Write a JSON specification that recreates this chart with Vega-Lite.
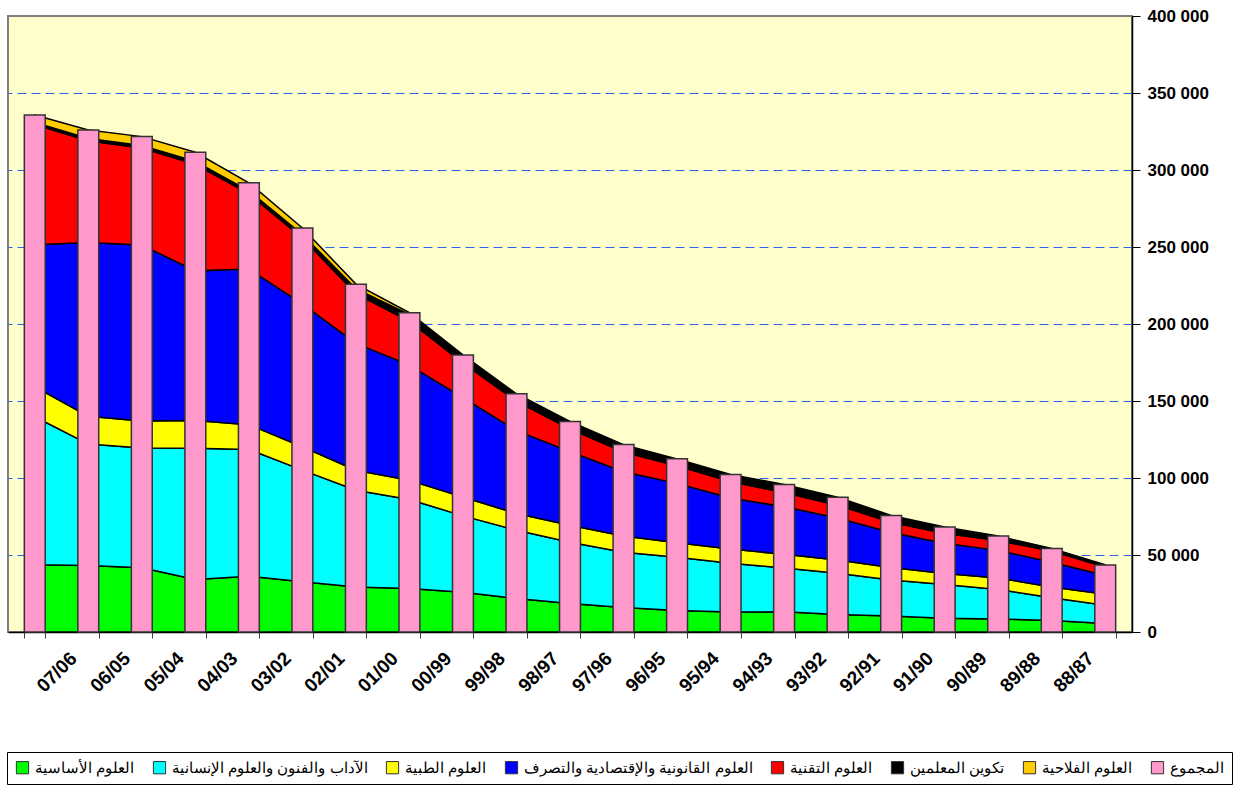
{
  "$schema": "https://vega.github.io/schema/vega-lite/v6.json",
  "width": 1124,
  "height": 616,
  "autosize": {"type": "none"},
  "padding": {"left": 8, "top": 16, "right": 105, "bottom": 157},
  "background": "white",
  "config": {
    "view": {"fill": "#FFFFCC", "stroke": "#808080", "strokeWidth": 2},
    "font": "Liberation Sans"
  },
  "datasets": {
    "series": [
      {"key": "s1", "name": "العلوم الأساسية", "k": 1},
      {"key": "s2", "name": "الآداب والفنون والعلوم الإنسانية", "k": 2},
      {"key": "s3", "name": "العلوم الطبية", "k": 3},
      {"key": "s4", "name": "العلوم القانونية والإقتصادية والتصرف", "k": 4},
      {"key": "s5", "name": "العلوم التقنية", "k": 5},
      {"key": "s6", "name": "تكوين المعلمين", "k": 6},
      {"key": "s7", "name": "العلوم الفلاحية", "k": 7},
      {"key": "s8", "name": "المجموع", "k": 8}
    ]
  },
  "data": {
    "values": [
      {"year": " ", "s1": 43620, "s2": 96180, "s3": 19480, "s4": 92230, "s5": 78070, "s6": 1350, "s7": 4800, "s8": 335730},
      {"year": "07/06", "s1": 43170, "s2": 78830, "s3": 18060, "s4": 112820, "s5": 66040, "s6": 1500, "s7": 5600, "s8": 326020},
      {"year": "06/05", "s1": 41750, "s2": 77800, "s3": 17410, "s4": 114300, "s5": 63020, "s6": 1600, "s7": 5800, "s8": 321680},
      {"year": "05/04", "s1": 34110, "s2": 85240, "s3": 18060, "s4": 97090, "s5": 69220, "s6": 1800, "s7": 6000, "s8": 311520},
      {"year": "04/03", "s1": 36250, "s2": 82330, "s3": 16050, "s4": 101100, "s5": 48890, "s6": 1900, "s7": 5200, "s8": 291720},
      {"year": "03/02", "s1": 32690, "s2": 72430, "s3": 15150, "s4": 92820, "s5": 42740, "s6": 2300, "s7": 4200, "s8": 262330},
      {"year": "02/01", "s1": 29260, "s2": 62780, "s3": 13010, "s4": 82400, "s5": 32290, "s6": 3150, "s7": 3000, "s8": 225890},
      {"year": "01/00", "s1": 28290, "s2": 57800, "s3": 12360, "s4": 74820, "s5": 28540, "s6": 4300, "s7": 1200, "s8": 207310},
      {"year": "00/99", "s1": 25760, "s2": 49640, "s3": 12300, "s4": 64470, "s5": 22560, "s6": 4200, "s7": 1000, "s8": 179930},
      {"year": "99/98", "s1": 21810, "s2": 44210, "s3": 10870, "s4": 53850, "s5": 19100, "s6": 3950, "s7": 900, "s8": 154690},
      {"year": "98/97", "s1": 18510, "s2": 39740, "s3": 11130, "s4": 47770, "s5": 14760, "s6": 4050, "s7": 800, "s8": 136760},
      {"year": "97/96", "s1": 15860, "s2": 35920, "s3": 10550, "s4": 41750, "s5": 12750, "s6": 4050, "s7": 800, "s8": 121680},
      {"year": "96/95", "s1": 13920, "s2": 34690, "s3": 9390, "s4": 38510, "s5": 11370, "s6": 3850, "s7": 700, "s8": 112430},
      {"year": "95/94", "s1": 13010, "s2": 31650, "s3": 9260, "s4": 33070, "s5": 10730, "s6": 3850, "s7": 700, "s8": 102270},
      {"year": "94/93", "s1": 13070, "s2": 28480, "s3": 8870, "s4": 30940, "s5": 9230, "s6": 4500, "s7": 700, "s8": 95790},
      {"year": "93/92", "s1": 11330, "s2": 26800, "s3": 8670, "s4": 27250, "s5": 8320, "s6": 4600, "s7": 600, "s8": 87570},
      {"year": "92/91", "s1": 10360, "s2": 23430, "s3": 8090, "s4": 22720, "s5": 6580, "s6": 3950, "s7": 600, "s8": 75730},
      {"year": "91/90", "s1": 8870, "s2": 21940, "s3": 7120, "s4": 19680, "s5": 6540, "s6": 3500, "s7": 500, "s8": 68150},
      {"year": "90/89", "s1": 8410, "s2": 19220, "s3": 7440, "s4": 17930, "s5": 6330, "s6": 2600, "s7": 400, "s8": 62330},
      {"year": "89/88", "s1": 7440, "s2": 14760, "s3": 6990, "s4": 16120, "s5": 7260, "s6": 1300, "s7": 300, "s8": 54170},
      {"year": "88/87", "s1": 5500, "s2": 11910, "s3": 7120, "s4": 12100, "s5": 5630, "s6": 1100, "s7": 200, "s8": 43560}
    ]
  },
  "transform": [
    {"fold": ["s1", "s2", "s3", "s4", "s5", "s6", "s7", "s8"], "as": ["key", "value"]},
    {"lookup": "key", "from": {"data": {"name": "series"}, "key": "key", "fields": ["name", "k"]}}
  ],
  "layer": [
    {
      "transform": [{"filter": "datum.k < 8"}],
      "mark": {"type": "area", "stroke": "black", "strokeWidth": 1.5, "strokeJoin": "miter"},
      "encoding": {
        "x": {
          "field": "year", "type": "nominal", "bandPosition": 0.5,
          "scale": {"type": "band", "domain": [" ", "07/06", "06/05", "05/04", "04/03", "03/02", "02/01", "01/00", "00/99", "99/98", "98/97", "97/96", "96/95", "95/94", "94/93", "93/92", "92/91", "91/90", "90/89", "89/88", "88/87"], "paddingInner": 0.61, "paddingOuter": 0.305},
          "axis": {"title": null, "labelAngle": -45, "labelAlign": "right", "labelBaseline": "middle", "labelOffset": -15, "labelPadding": 17, "labelFont": "Liberation Sans", "labelFontSize": 19, "labelFontWeight": "bold", "labelColor": "black", "labelOverlap": false, "tickBand": "extent", "tickSize": 6, "tickColor": "#404040", "domainColor": "black", "domainWidth": 1.5, "grid": false}
        },
        "y": {
          "field": "value", "type": "quantitative", "stack": "zero",
          "scale": {"domain": [0, 400000], "nice": false},
          "axis": {"orient": "right", "title": null, "values": [0, 50000, 100000, 150000, 200000, 250000, 300000, 350000, 400000], "labelExpr": "datum.value == 0 ? '\u00a00' : format(datum.value / 1000, 'd') + ' 000'", "labelFont": "Liberation Sans", "labelFontSize": 17, "labelFontWeight": "bold", "labelColor": "black", "labelPadding": 7, "domainColor": "black", "domainWidth": 1.5, "tickColor": "black", "tickSize": 8, "grid": true, "gridColor": "#2E62F0", "gridDash": [9, 5], "gridWidth": 1, "gridOpacity": {"condition": {"test": "datum.value >= 400000 || datum.value <= 0", "value": 0}, "value": 1}}
        },
        "color": {
          "field": "name", "type": "nominal",
          "scale": {"domain": ["العلوم الأساسية", "الآداب والفنون والعلوم الإنسانية", "العلوم الطبية", "العلوم القانونية والإقتصادية والتصرف", "العلوم التقنية", "تكوين المعلمين", "العلوم الفلاحية", "المجموع"], "range": ["#00FF00", "#00FFFF", "#FFFF00", "#0000FF", "#FF0000", "#000000", "#FFCC00", "#FF99CC"]},
          "legend": {"orient": "none", "legendX": -1, "legendY": 736, "direction": "horizontal", "columns": 8, "title": null, "symbolType": "square", "symbolSize": 150, "symbolStrokeColor": "black", "symbolStrokeWidth": 1, "symbolOpacity": 1, "labelFont": "Liberation Sans", "labelFontSize": 15, "labelColor": "black", "labelLimit": 400, "columnPadding": 16, "padding": 8, "strokeColor": "black", "fillColor": "white", "labelOffset": 5}
        },
        "order": {"field": "k", "type": "quantitative"}
      }
    },
    {
      "transform": [{"filter": "datum.k == 8"}],
      "mark": {"type": "bar", "stroke": "#333333", "strokeWidth": 1.5},
      "encoding": {
        "x": {
          "field": "year", "type": "nominal",
          "scale": {"type": "band", "domain": [" ", "07/06", "06/05", "05/04", "04/03", "03/02", "02/01", "01/00", "00/99", "99/98", "98/97", "97/96", "96/95", "95/94", "94/93", "93/92", "92/91", "91/90", "90/89", "89/88", "88/87"], "paddingInner": 0.61, "paddingOuter": 0.305},
          "axis": {"title": null, "labelAngle": -45, "labelAlign": "right", "labelBaseline": "middle", "labelOffset": -15, "labelPadding": 17, "labelFont": "Liberation Sans", "labelFontSize": 19, "labelFontWeight": "bold", "labelColor": "black", "labelOverlap": false, "tickBand": "extent", "tickSize": 6, "tickColor": "#404040", "domainColor": "black", "domainWidth": 1.5, "grid": false}
        },
        "y": {
          "field": "value", "type": "quantitative", "stack": null,
          "scale": {"domain": [0, 400000], "nice": false},
          "axis": {"orient": "right", "title": null, "values": [0, 50000, 100000, 150000, 200000, 250000, 300000, 350000, 400000], "labelExpr": "datum.value == 0 ? '\u00a00' : format(datum.value / 1000, 'd') + ' 000'", "labelFont": "Liberation Sans", "labelFontSize": 17, "labelFontWeight": "bold", "labelColor": "black", "labelPadding": 7, "domainColor": "black", "domainWidth": 1.5, "tickColor": "black", "tickSize": 8, "grid": true, "gridColor": "#2E62F0", "gridDash": [9, 5], "gridWidth": 1, "gridOpacity": {"condition": {"test": "datum.value >= 400000 || datum.value <= 0", "value": 0}, "value": 1}}
        },
        "color": {"field": "name", "type": "nominal"}
      }
    }
  ]
}
